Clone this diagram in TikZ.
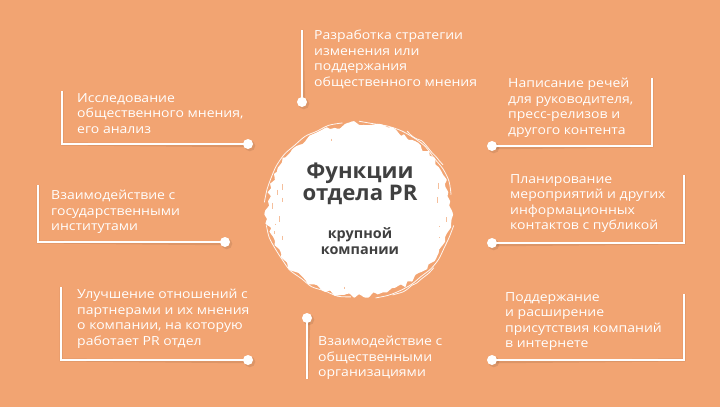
\documentclass[tikz,border=0pt]{standalone}
\usepackage{fontspec}
\setmainfont[FakeStretch=1.12]{Open Sans}
\newfontfamily\ttlfont[FakeStretch=1.03]{Open Sans}
\definecolor{bgor}{RGB}{242,164,114}
\definecolor{ttl}{RGB}{64,64,64}
\begin{document}
\begin{tikzpicture}[x=1pt,y=-1pt,
  lbl/.style={font=\fontsize{12.5}{15.5}\selectfont, text=white, align=left, inner sep=0pt, anchor=north west},
  wline/.style={draw=white, line width=2.6pt},
  shline/.style={draw=black, opacity=0.09, line width=3pt},
  dot/.style={circle, fill=white, minimum size=10pt, inner sep=0pt},
  shdot/.style={circle, fill=black, opacity=0.09, minimum size=11pt, inner sep=0pt}]
\fill[bgor] (0,0) rectangle (720,407);
\useasboundingbox (0,0) rectangle (720,407);

% ---- central brush blob ----
\pgfmathsetseed{7}
\fill[white] plot[smooth cycle, domain=0:357, samples=120] ({359+(92+3*rand)*cos(\x)}, {210+(86+3*rand)*sin(\x)});
\foreach \a/\b/\r in {10/80/95, 95/170/94, 185/260/95, 270/350/94, 40/70/97, 300/330/96}{
  \draw[white, line width=0.8pt, opacity=0.9] plot[smooth, domain=\a:\b, samples=10] ({359+(\r+1.2*rand)*cos(\x)}, {210+(\r-6+1.2*rand)*sin(\x)});
}
\foreach \a/\r in {160/82, 170/85, 175/80, 185/87, 195/84, 200/81, 20/86, 12/82, 340/85, 5/88, 250/82, 100/84, 165/88, 190/78, 350/80}{
  \draw[bgor, line width=0.8pt, opacity=0.7] ({359+\r*cos(\a)},{210+(\r-6)*sin(\a)}) -- ++(0,{3+3*rand});
}
\node[font=\ttlfont\fontsize{21.5}{22}\selectfont\bfseries, text=ttl, align=center, inner sep=0pt] (title) at (360,184) {Функции\\отдела PR};
\node[font=\ttlfont\fontsize{14}{15.5}\selectfont\bfseries, text=ttl, align=center, inner sep=0pt] (sub) at (360,241) {крупной\\компании};

% ---- coordinates ----
\coordinate (t1) at (62,91);   \coordinate (c1) at (62,144);
\coordinate (t2) at (302,30);
\coordinate (t3) at (652,78);  \coordinate (c3) at (652,146);
\coordinate (t4) at (38,185);  \coordinate (c4) at (38,242);
\coordinate (t5) at (684,175); \coordinate (c5) at (684,243);
\coordinate (t6) at (61,287);  \coordinate (c6) at (61,360);
\coordinate (b7) at (307,379);
\coordinate (t8) at (684,294); \coordinate (c8) at (684,360);

% shadows
\begin{scope}[shift={(1.8,1.8)}]
\draw[shline] (t1) -- (c1) -- (248,144);
\draw[shline] (t2) -- (302,102);
\draw[shline] (t3) -- (c3) -- (492,146);
\draw[shline] (t4) -- (c4) -- (225,242);
\draw[shline] (t5) -- (c5) -- (492,243);
\draw[shline] (t6) -- (c6) -- (248,360);
\draw[shline] (307,318) -- (b7);
\draw[shline] (t8) -- (c8) -- (492,360);
\foreach \p in {(248,144),(302,102),(492,146),(225,242),(492,243),(248,360),(307,318),(492,360)}
  \node[shdot] at \p {};
\end{scope}

% dots
\node[dot] (d1) at (248,144) {};
\node[dot] (d2) at (302,102) {};
\node[dot] (d3) at (492,146) {};
\node[dot] (d4) at (225,242) {};
\node[dot] (d5) at (492,243) {};
\node[dot] (d6) at (248,360) {};
\node[dot] (d7) at (307,318) {};
\node[dot] (d8) at (492,360) {};

% lines
\draw[wline] (t1) -- (c1) -- (d1.center);
\draw[wline] (t2) -- (d2.center);
\draw[wline] (t3) -- (c3) -- (d3.center);
\draw[wline] (t4) -- (c4) -- (d4.center);
\draw[wline] (t5) -- (c5) -- (d5.center);
\draw[wline] (t6) -- (c6) -- (d6.center);
\draw[wline] (d7.center) -- (b7);
\draw[wline] (t8) -- (c8) -- (d8.center);

% labels
\node[lbl] (l1) at (77,93) {Исследование\\общественного мнения,\\его анализ};
\node[lbl] (l2) at (314,30) {Разработка стратегии\\изменения или\\поддержания\\общественного мнения};
\node[lbl] (l3) at (508,78) {Написание речей\\для руководителя,\\пресс-релизов и\\другого контента};
\node[lbl] (l4) at (51,190) {Взаимодействие с\\государственными\\институтами};
\node[lbl] (l5) at (510,174) {Планирование\\мероприятий и других\\информационных\\контактов с публикой};
\node[lbl] (l6) at (77,289) {Улучшение отношений с\\партнерами и их мнения\\о компании, на которую\\работает PR отдел};
\node[lbl] (l7) at (318,336) {Взаимодействие с\\общественными\\организациями};
\node[lbl] (l8) at (505,292) {Поддержание\\и расширение\\присутствия компаний\\в интернете};
\end{tikzpicture}
\end{document}
